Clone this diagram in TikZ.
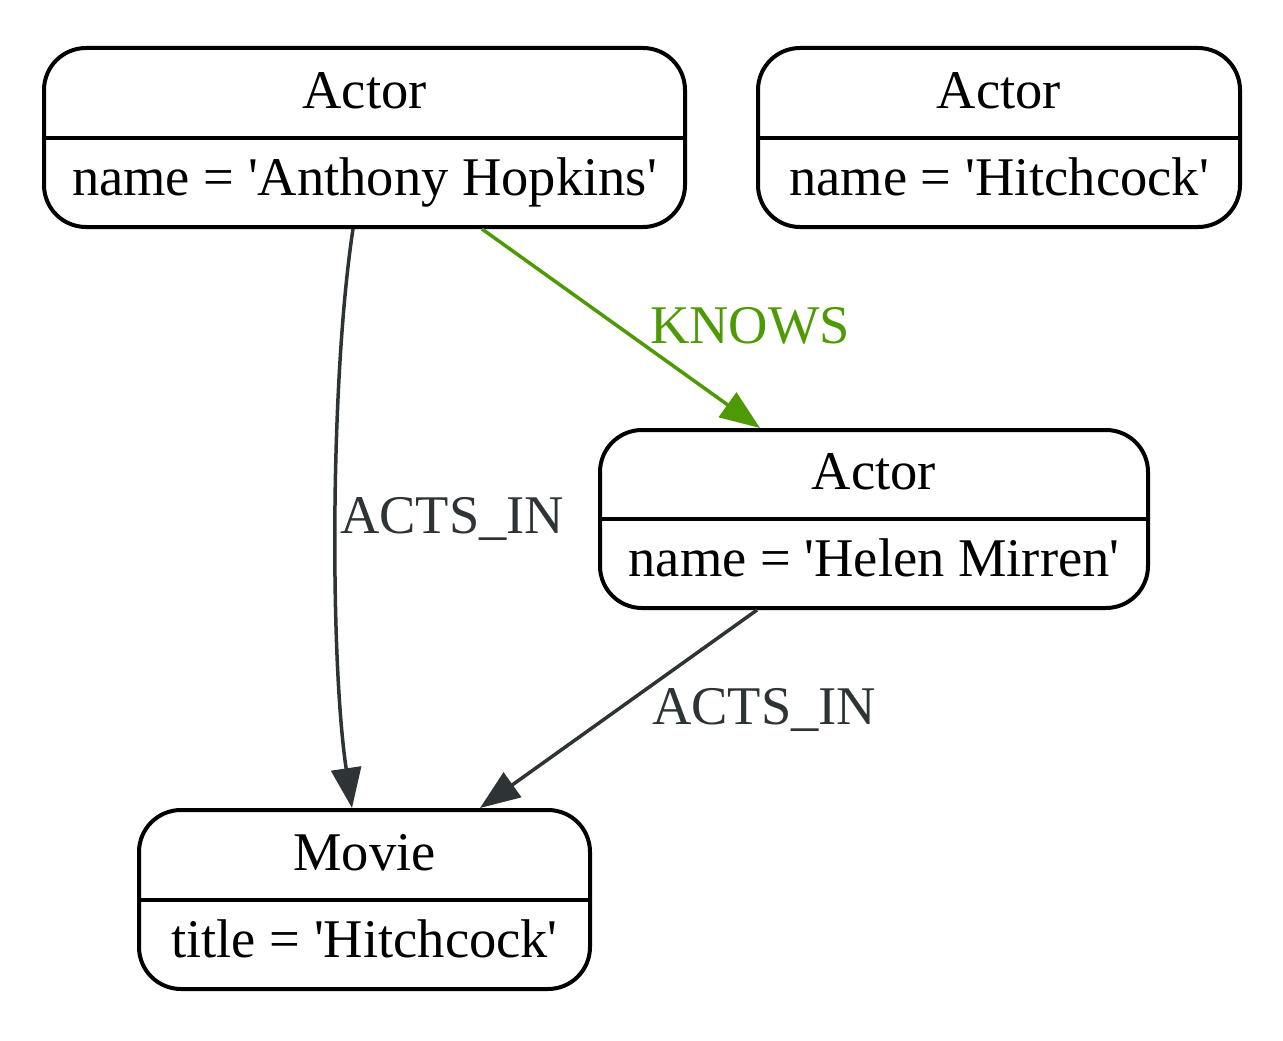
\documentclass[tikz,border=0pt]{standalone}
\usepackage{fontspec}
\setmainfont{Liberation Serif}
\usetikzlibrary{arrows.meta,calc}
\definecolor{edgegray}{HTML}{2E3436}
\definecolor{edgegreen}{HTML}{4E9A06}
\newcommand{\sq}{\textquotesingle}
\begin{document}
\begin{tikzpicture}[x=1pt,y=-1pt,
  box/.style={draw=black, line width=4pt, rounded corners=42pt, inner sep=0pt},
  txt/.style={inner sep=0pt, anchor=base, font=\fontsize{54.5}{60}\selectfont},
  lbl/.style={inner sep=0pt, anchor=base west, font=\fontsize{54.5}{60}\selectfont},
  conn/.style={line width=3.5pt, -{Triangle[length=40pt,width=30pt]}}]
\useasboundingbox (0,0) rectangle (1283,1041);
% boxes
\node[box, minimum width=641pt, minimum height=179pt] (a1) at (364.5,137.5) {};
\node[box, minimum width=482pt, minimum height=179pt] (a2) at (999,137.5) {};
\node[box, minimum width=548pt, minimum height=178pt] (a3) at (874,519) {};
\node[box, minimum width=451pt, minimum height=179pt] (m) at (364.5,899.5) {};
\foreach \n in {a1,a2,a3,m} \draw[line width=4pt] (\n.west) -- (\n.east);
% texts
\node[txt] (a1h) at ($(a1)+(0,-29.5)$) {Actor};
\node[txt] (a1v) at ($(a1)+(0,57.5)$) {name = \sq Anthony Hopkins\sq};
\node[txt] (a2h) at ($(a2)+(0,-29.5)$) {Actor};
\node[txt] (a2v) at ($(a2)+(0,57.5)$) {name = \sq Hitchcock\sq};
\node[txt] (a3h) at ($(a3)+(0,-29.5)$) {Actor};
\node[txt] (a3v) at ($(a3)+(0,57.5)$) {name = \sq Helen Mirren\sq};
\node[txt] (mh) at ($(m)+(0,-29.5)$) {Movie};
\node[txt] (mv) at ($(m)+(0,57.5)$) {title = \sq Hitchcock\sq};
% connectors
\draw[conn, edgegray] ($(a1.south)+(-11.5,0)$) .. controls (330,380) and (330,660) .. ($(m.north)+(-12.5,0)$);
\draw[conn, edgegreen] ($(a1.south)+(117.5,0)$) -- ($(a3.north)+(-114,0)$);
\draw[conn, edgegray] ($(a3.south)+(-117,0)$) -- ($(m.north)+(115.5,0)$);
% labels
\node[lbl, text=edgegray] (l1) at (340,533) {ACTS\_IN};
\node[lbl, text=edgegreen] (l2) at (650,343) {KNOWS};
\node[lbl, text=edgegray] (l3) at (652,724) {ACTS\_IN};
\end{tikzpicture}
\end{document}
